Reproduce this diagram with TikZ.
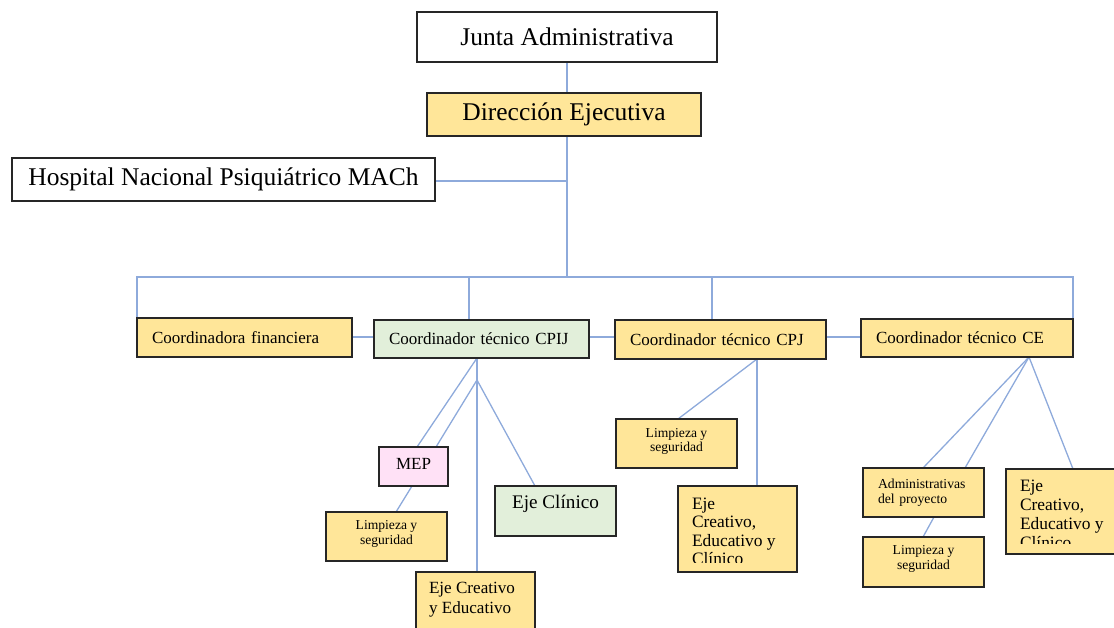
\documentclass[tikz,border=0pt]{standalone}
\usepackage{fontspec}
\setmainfont{Liberation Serif}
\usetikzlibrary{calc}
\definecolor{ylw}{HTML}{FFE699}
\definecolor{grn}{HTML}{E2EFDA}
\definecolor{pnk}{HTML}{FFE1F6}
\definecolor{lnk}{HTML}{8EAADB}
\definecolor{bdr}{HTML}{262626}
\newcommand\fsz[2]{\fontsize{#1}{#2}\selectfont}
\pgfdeclarelayer{bg}
\pgfsetlayers{bg,main}
\begin{document}
\begin{tikzpicture}[x=1pt,y=-1pt,
 box/.style={draw=bdr, line width=1.3pt, inner sep=0pt, outer sep=0pt, anchor=north west},
 wbox/.style={box, fill=white},
 ybox/.style={box, fill=ylw},
 gbox/.style={box, fill=grn},
 pbox/.style={box, fill=pnk},
 conn/.style={draw=lnk, line width=1.3pt},
 txt/.style={inner sep=0pt, outer sep=0pt, anchor=base west, align=left}
]
\useasboundingbox (0,0) rectangle (1114,627);

% top level
\node[wbox, minimum width=300pt, minimum height=50pt, font=\fsz{25.5}{30}] (junta) at (417,12) {Junta Administrativa};
\node[ybox, minimum width=274pt, minimum height=43pt, font=\fsz{25.5}{30}] (dir) at (427,93) {Dirección Ejecutiva};
\node[wbox, minimum width=423pt, minimum height=43pt, font=\fsz{25.5}{30}] (hosp) at (12,158) {Hospital Nacional Psiquiátrico MACh};

% coordinators
\node[ybox, minimum width=215pt, minimum height=39pt, text width=185pt, inner xsep=15pt, align=left, font=\fsz{17}{20}] (fin) at (137,318) {Coordinadora financiera};
\node[gbox, minimum width=215pt, minimum height=38pt, text width=185pt, inner xsep=15pt, align=left, font=\fsz{17}{20}] (cpij) at (374,320) {Coordinador técnico CPIJ};
\node[ybox, minimum width=211pt, minimum height=39pt, text width=181pt, inner xsep=15pt, align=left, font=\fsz{17}{20}] (cpj) at (615,320) {Coordinador técnico CPJ};
\node[ybox, minimum width=212pt, minimum height=38pt, text width=182pt, inner xsep=15pt, align=left, font=\fsz{17}{20}] (ce) at (861,319) {Coordinador técnico CE};

% CPIJ subtree
\node[pbox, minimum width=69pt, minimum height=39pt, font=\fsz{17}{20}] (mep) at (379,447) {\raisebox{3pt}[\height][\depth]{MEP}};
\node[ybox, minimum width=121pt, minimum height=49pt, align=center, font=\fsz{13.6}{15}] (limp1) at (326,512) {\raisebox{3pt}[\height][\depth]{Limpieza y}\\\raisebox{3pt}[\height][\depth]{seguridad}};
\node[gbox, minimum width=121pt, minimum height=50pt, font=\fsz{19.2}{22}] (clin) at (495,486) {\raisebox{7pt}[\height][\depth]{Eje Clínico}};
\node[ybox, minimum width=119pt, minimum height=80pt] (ecy) at (416,572) {};
\node[txt, font=\fsz{17.1}{20}] (ecyt) at (429,613) {Eje Creativo\\y Educativo};

% CPJ subtree
\node[ybox, minimum width=121pt, minimum height=49pt, align=center, font=\fsz{13.6}{14.5}] (limp2) at (616,419) {\raisebox{2pt}[\height][\depth]{Limpieza y}\\\raisebox{2pt}[\height][\depth]{seguridad}};
\node[ybox, minimum width=119pt, minimum height=86pt] (ej2) at (678,486) {};
\begin{scope}
\clip (ej2.north west) rectangle ($(ej2.south east)+(0,-10)$);
\node[txt, font=\fsz{17.4}{18.5}] (ej2t) at (692,564.5) {Eje\\Creativo,\\Educativo y\\Clínico};
\end{scope}

% CE subtree
\node[ybox, minimum width=121pt, minimum height=49pt, text width=91pt, inner xsep=15pt, align=left, font=\fsz{13.7}{15}] (admin) at (863,468) {Administrativas\\del proyecto};
\node[ybox, minimum width=121pt, minimum height=50pt, align=center, font=\fsz{13.6}{14.5}] (limp3) at (863,537) {\raisebox{3pt}[\height][\depth]{Limpieza y}\\\raisebox{3pt}[\height][\depth]{seguridad}};
\node[ybox, minimum width=130pt, minimum height=85pt] (ej3) at (1006,469) {};
\begin{scope}
\clip (ej3.north west) rectangle ($(ej3.south east)+(0,-11)$);
\node[txt, font=\fsz{17.4}{19}] (ej3t) at (1020,548) {Eje\\Creativo,\\Educativo y\\Clínico};
\end{scope}

% junction coordinates
\coordinate (busC) at (567,277);
\coordinate (busL) at (137,277);
\coordinate (busR) at (1073,277);
\coordinate (busA) at (469,277);
\coordinate (busB) at (712,277);
\coordinate (hj) at ($(hosp.east)+(0,1.5)$);
\coordinate (p1) at ($(cpij.south west)+(103,0)$);
\coordinate (p2) at ($(cpij.south west)+(103,22)$);
\coordinate (q1) at ($(cpj.south west)+(142,0)$);
\coordinate (r1) at ($(ce.south west)+(168,0)$);
\coordinate (h1) at ($(fin.east)+(0,-0.5)$);
\coordinate (h2) at ($(cpij.east)+(0,-2)$);
\coordinate (h3) at ($(cpj.east)+(0,-2.5)$);

\begin{pgfonlayer}{bg}
\draw[conn] (junta.south) -- (junta.south |- dir.north);
\draw[conn] (junta.south |- dir.south) -- (busC);
\draw[conn] (hj) -- (hj -| busC);
\draw[conn] (fin.north west) -- (busL) -- (busR) -- (ce.north east);
\draw[conn] (busA) -- (busA |- cpij.north);
\draw[conn] (busB) -- (busB |- cpj.north);
\draw[conn] (h1) -- (h1 -| cpij.west);
\draw[conn] (h2) -- (h2 -| cpj.west);
\draw[conn] (h3) -- (h3 -| ce.west);
% CPIJ
\draw[conn] (p1) -- ($(mep.north west)+(38,0)$);
\draw[conn] (p2) -- ($(mep.north west)+(57,0)$);
\draw[conn] (p1) -- (p1 |- ecy.north);
\draw[conn] (p2) -- ($(clin.north west)+(40,0)$);
\draw[conn] ($(mep.south west)+(33,0)$) -- ($(limp1.north west)+(70,0)$);
% CPJ
\draw[conn] (q1) -- ($(limp2.north west)+(62,0)$);
\draw[conn] (q1) -- (q1 |- ej2.north);
% CE
\draw[conn] (r1) -- ($(admin.north west)+(60,0)$);
\draw[conn] (r1) -- ($(admin.north west)+(102,0)$);
\draw[conn] (r1) -- ($(ej3.north west)+(67,0)$);
\draw[conn] ($(admin.south west)+(71,0)$) -- ($(limp3.north west)+(60,0)$);
\end{pgfonlayer}
\end{tikzpicture}
\end{document}
